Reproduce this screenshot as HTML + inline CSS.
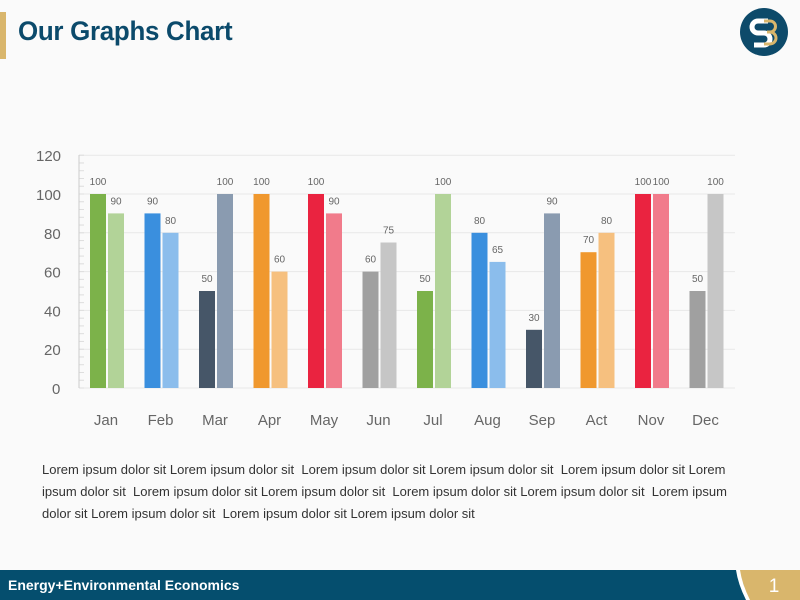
<!DOCTYPE html>
<html><head><meta charset="utf-8"><style>
body{margin:0;width:800px;height:600px;background:#fafafa;position:relative;overflow:hidden;font-family:"Liberation Sans",sans-serif}
.t{position:absolute;left:18px;top:16px;font-size:27px;font-weight:bold;color:#0b4a6b;transform:scaleX(0.96);transform-origin:left;letter-spacing:-0.3px}
.p{position:absolute;left:42px;top:459px;width:705px;font-size:13px;line-height:22px;color:#333}
</style></head><body>
<div style="position:absolute;left:0;top:12px;width:6px;height:47px;background:#d9b66c"></div>
<div class="t">Our Graphs Chart</div>
<svg width="800" height="600" style="position:absolute;left:0;top:0">
<circle cx="764" cy="32" r="24" fill="#0d4a6a"/>
<path d="M768 21h-10a6 6 0 0 0 0 12h6a6 6 0 0 1 0 12h-10" stroke="#fff" stroke-width="5" fill="none"/>
<path d="M764 21h6a5 5 0 0 1 0 11h-3m3 0a6 6 0 0 1 0 12h-6" stroke="#d9b66c" stroke-width="3" fill="none"/>
<g id="c"></g>
<rect x="0" y="570" width="800" height="30" fill="#054e6e"/>
<path d="M738 570h62v30h-52q-6-22-10-30z" fill="#d9b66c"/>
<path d="M736 570h4q2 14 10 30h-4q-8-16-10-30z" fill="#fff"/>
<text x="774" y="592" font-size="19" fill="#fff" text-anchor="middle">1</text>
<text x="8" y="590" font-size="14" font-weight="bold" fill="#fff">Energy+Environmental Economics</text>
</svg>
<div class="p">Lorem ipsum dolor sit Lorem ipsum dolor sit&nbsp; Lorem ipsum dolor sit Lorem ipsum dolor sit&nbsp; Lorem ipsum dolor sit Lorem ipsum dolor sit&nbsp; Lorem ipsum dolor sit Lorem ipsum dolor sit&nbsp; Lorem ipsum dolor sit Lorem ipsum dolor sit&nbsp; Lorem ipsum dolor sit Lorem ipsum dolor sit&nbsp; Lorem ipsum dolor sit Lorem ipsum dolor sit</div>
<script>
var g=document.getElementById('c'),s='';
var y0=388,k=1.94;
for(var v=0;v<=120;v+=20){var y=y0-v*k;
s+='<line x1="79" x2="735" y1="'+y+'" y2="'+y+'" stroke="#e8e8e8"/>';
s+='<text x="'+(v==0?52:v<100?44:36)+'" y="'+(y+6)+'" font-size="15" fill="#666">'+v+'</text>';}
for(var v=0;v<=120;v+=4){var y=y0-v*k;s+='<line x1="79" x2="84" y1="'+y+'" y2="'+y+'" stroke="#ddd"/>';}
s+='<line x1="79" x2="79" y1="155" y2="388" stroke="#ccc"/>';
var m=['Jan','Feb','Mar','Apr','May','Jun','Jul','Aug','Sep','Act','Nov','Dec'];
var d=[[100,90],[90,80],[50,100],[100,60],[100,90],[60,75],[50,100],[80,65],[30,90],[70,80],[100,100],[50,100]];
var c=[['#7cb24a','#b2d398'],['#3a8fde','#8bbdec'],['#465668','#8a9bb0'],['#f0982e','#f6c07f'],['#ea2340','#f17b8b'],['#a0a0a0','#c6c6c6']];
for(var i=0;i<12;i++){var cx=106+i*54.5,cc=c[i%6];
for(var j=0;j<2;j++){var x=cx-16+j*18,h=d[i][j]*k;
s+='<rect x="'+x+'" y="'+(y0-h)+'" width="16" height="'+h+'" fill="'+cc[j]+'"/>';
s+='<text x="'+(x+8)+'" y="'+(y0-h-9)+'" font-size="10" fill="#666" text-anchor="middle">'+d[i][j]+'</text>';}
s+='<text x="'+cx+'" y="425" font-size="15" fill="#666" text-anchor="middle">'+m[i]+'</text>';}
g.innerHTML=s;
</script>
</body></html>
